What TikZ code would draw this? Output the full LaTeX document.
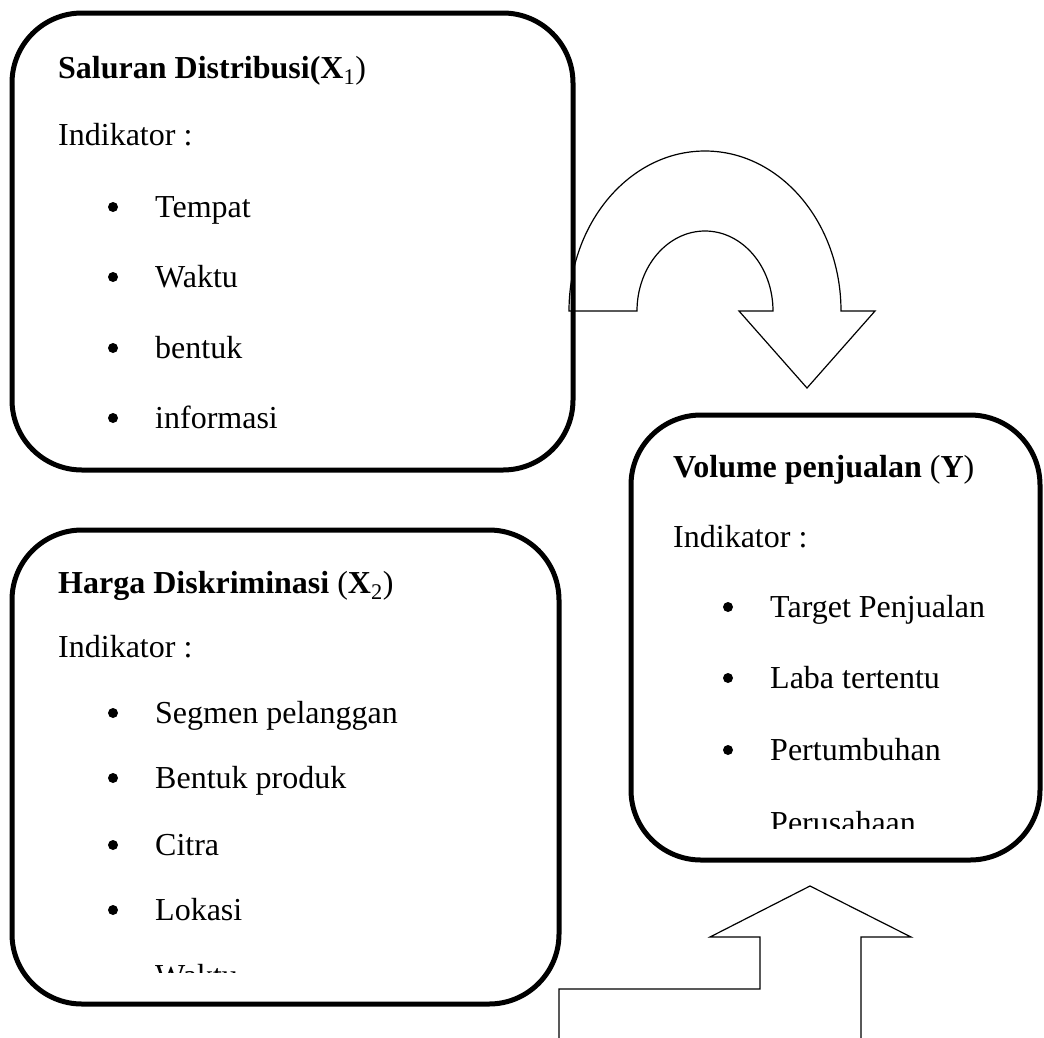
\documentclass[tikz,border=0pt]{standalone}
\usepackage{fontspec}
\setmainfont{Liberation Serif}
\begin{document}
\begin{tikzpicture}[x=1pt,y=-1pt,
  box/.style={draw, line width=5pt, rounded corners=70pt, inner sep=0pt},
  txt/.style={anchor=base west, inner sep=0pt, font=\fontsize{32}{38}\selectfont},
  bul/.style={circle, fill, inner sep=0pt, minimum size=10pt},
  blockarrow/.style={draw, line width=1.2pt, fill=white, line join=miter}]
\useasboundingbox (0,0) rectangle (1044,1037);
\clip (0,0) rectangle (1044,1037);

% block arrows
\draw[blockarrow] (569,311) arc[start angle=180, end angle=0, x radius=136pt, y radius=160pt]
  -- (875,311) -- (807,388) -- (739,311) -- (773,311)
  arc[start angle=0, end angle=180, x radius=68pt, y radius=80pt] -- cycle;
\draw[blockarrow] (559,1050) -- (559,989) -- (760,989) -- (760,937) -- (710,937)
  -- (810,886) -- (911,937) -- (861,937) -- (861,1050);

% boxes
\node[box, minimum width=561pt, minimum height=457pt] (b1) at (292.5,241.5) {};
\node[box, minimum width=547pt, minimum height=474pt] (b2) at (285.5,767) {};
\node[box, minimum width=409pt, minimum height=445pt] (b3) at (835.5,637.5) {};

% box 1
\node[txt] (b1t) at (58,78) {\textbf{Saluran Distribusi(X}\textsubscript{1})};
\node[txt] (b1ind) at (58,145) {Indikator :};
\node[bul] (b1d1) at (113,207) {};
\node[txt] (b1i1) at (155,217) {Tempat};
\node[bul] (b1d2) at (113,277) {};
\node[txt] (b1i2) at (155,287) {Waktu};
\node[bul] (b1d3) at (113,348) {};
\node[txt] (b1i3) at (155,358) {bentuk};
\node[bul] (b1d4) at (113,418) {};
\node[txt] (b1i4) at (155,428) {informasi};

% box 2
\node[txt] (b2t) at (58,593) {\textbf{Harga Diskriminasi }(\textbf{X}\textsubscript{2})};
\node[txt] (b2ind) at (58,657) {Indikator :};
\node[bul] (b2d1) at (113,713) {};
\node[txt] (b2i1) at (155,723) {Segmen pelanggan};
\node[bul] (b2d2) at (113,778) {};
\node[txt] (b2i2) at (155,788) {Bentuk produk};
\node[bul] (b2d3) at (113,845) {};
\node[txt] (b2i3) at (155,855) {Citra};
\node[bul] (b2d4) at (113,910) {};
\node[txt] (b2i4) at (155,920) {Lokasi};
\begin{scope}
  \clip (0,0) rectangle (1044,972);
  \node[txt] (b2i5) at (155,986) {Waktu};
\end{scope}

% box 3
\node[txt] (b3t) at (673,477) {\textbf{Volume penjualan }(\textbf{Y})};
\node[txt] (b3ind) at (673,547) {Indikator :};
\node[bul] (b3d1) at (728,607) {};
\node[txt] (b3i1) at (770,617) {Target Penjualan};
\node[bul] (b3d2) at (728,678) {};
\node[txt] (b3i2) at (770,688) {Laba tertentu};
\node[bul] (b3d3) at (728,750) {};
\node[txt] (b3i3) at (770,760) {Pertumbuhan};
\begin{scope}
  \clip (0,0) rectangle (1044,828);
  \node[txt] (b3i4) at (770,833) {Perusahaan};
\end{scope}
\end{tikzpicture}
\end{document}
